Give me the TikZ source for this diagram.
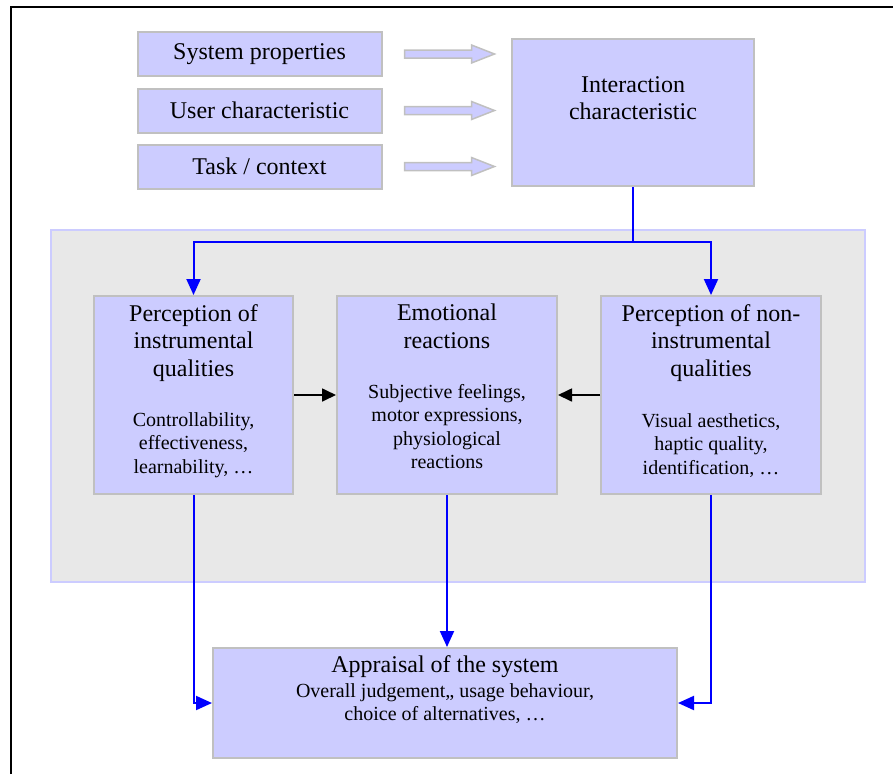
\documentclass[tikz,border=0pt]{standalone}
\usepackage{fontspec}
\setmainfont{Liberation Serif}
\usetikzlibrary{arrows.meta}
\definecolor{lav}{HTML}{CCCCFF}
\definecolor{edge}{HTML}{C0C0C0}
\definecolor{panel}{HTML}{E8E8E8}
\newcommand{\ttl}{\fontsize{24}{27.5}\selectfont}
\newcommand{\sml}{\fontsize{20}{23.5}\selectfont}

\begin{document}
\begin{tikzpicture}[x=1pt,y=-1pt,
  box/.style={draw=edge,fill=lav,line width=2pt,inner sep=0pt},
  head/.style={font=\ttl,align=center,anchor=north,inner sep=0pt},
  detail/.style={font=\sml,align=center,anchor=north,inner sep=0pt},
  flow/.style={draw=blue,line width=2pt,-{Triangle[length=16pt,width=14pt]}},
  link/.style={line width=1.7pt,-{Triangle[length=14pt,width=13pt]}},
  fat/.style={draw=edge,fill=lav,line width=1.5pt}]
\useasboundingbox (0,0) rectangle (893,774);
\draw[line width=2pt] (11,774) |- (893,6.5);

% grey panel
\draw[draw=lav,fill=panel,line width=2pt] (51,230) rectangle (865,582);

% inputs
\node[box,minimum width=244,minimum height=44,font=\ttl] (sys) at (259.5,54) {System properties};
\node[box,minimum width=244,minimum height=44,font=\ttl] (usr) at (259.5,110.5) {User characteristic};
\node[box,minimum width=244,minimum height=44,font=\ttl] (task) at (259.5,166.5) {Task / context};
\node[box,minimum width=242,minimum height=147] (inter) at (633,112.5) {};
\node[font=\ttl,align=center] (interT) at (633,98) {Interaction\\characteristic};
\foreach \n in {sys,usr,task}
  \draw[fat] ([xshift=22pt]\n.east) ++(0,-4) -- ++(67,0) -- ++(0,-5) -- ++(23,9) -- ++(-23,9) -- ++(0,-5) -- ++(-67,0) -- cycle;

% perceptions
\node[box,minimum width=199,minimum height=198] (pinst) at (193.5,395) {};
\node[box,minimum width=220,minimum height=198] (emo) at (447,395) {};
\node[box,minimum width=220,minimum height=198] (ninst) at (711,395) {};
\node[head] (pinstT) at ([yshift=-9pt]pinst.north) {Perception of\\instrumental\\qualities};
\node[detail] (pinstD) at ([yshift=-117pt]pinst.north) {Controllability,\\effectiveness,\\learnability, …};
\node[head] (emoT) at ([yshift=-9pt]emo.north) {Emotional\\reactions};
\node[detail] (emoD) at ([yshift=-89pt]emo.north) {Subjective feelings,\\motor expressions,\\physiological\\reactions};
\node[head] (ninstT) at ([yshift=-9pt]ninst.north) {Perception of non-\\instrumental\\qualities};
\node[detail] (ninstD) at ([yshift=-118pt]ninst.north) {Visual aesthetics,\\haptic quality,\\identification, …};

% appraisal
\node[box,minimum width=464,minimum height=110] (appr) at (445,703) {};
\node[head] (apprT) at ([yshift=-8pt]appr.north) {Appraisal of the system};
\node[detail] (apprD) at ([yshift=-36pt]appr.north) {Overall judgement,, usage behaviour,\\choice of alternatives, …};

% connectors
\draw[flow] (inter.south) -- ++(0,55) -| (pinst.north);
\draw[flow] (inter.south) -- ++(0,55) -| (ninst.north);
\draw[link] (pinst) -- (emo);
\draw[link] (ninst) -- (emo);
\draw[flow] (pinst.south) |- (appr.west);
\draw[flow] (emo.south) -- (emo.south |- appr.north);
\draw[flow] (ninst.south) |- (appr.east);
\end{tikzpicture}
\end{document}
